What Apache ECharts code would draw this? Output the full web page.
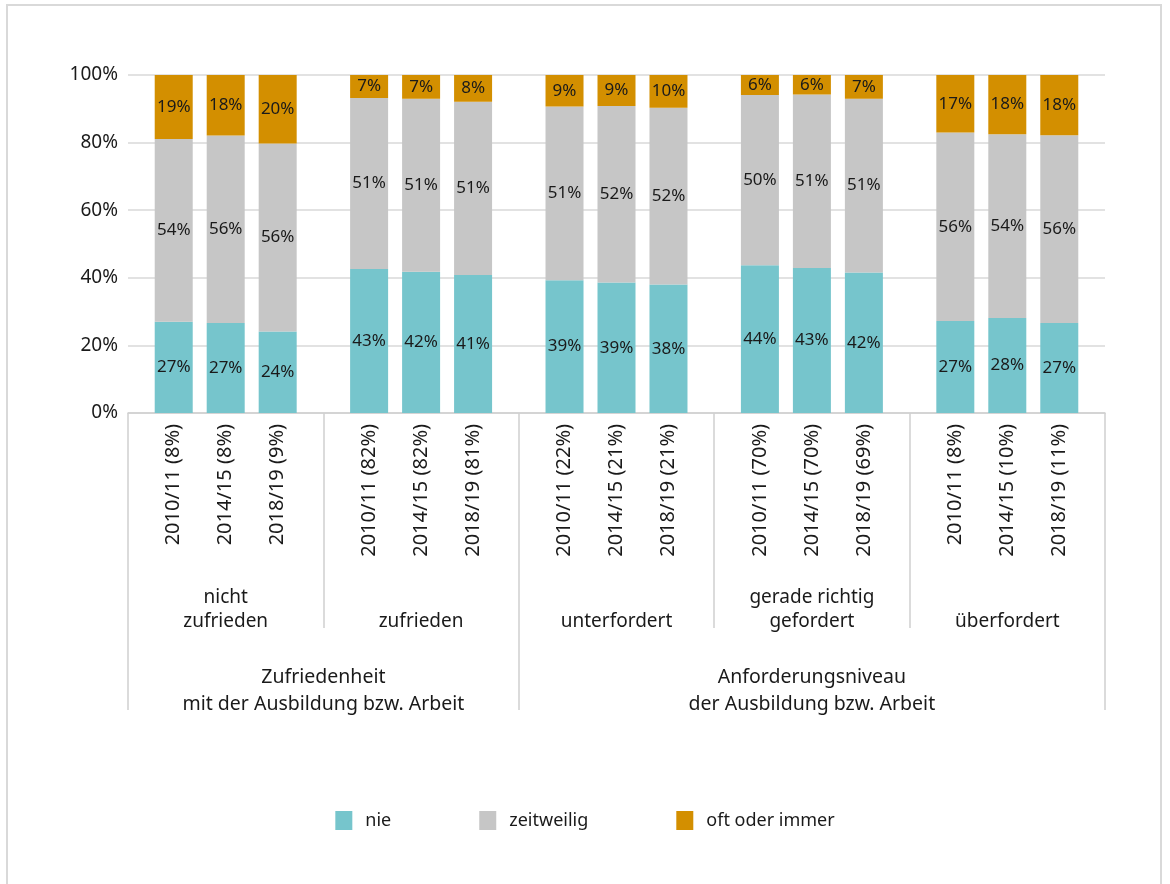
<!DOCTYPE html>
<html>
<head>
<meta charset="utf-8">
<script src="https://cdn.jsdelivr.net/npm/echarts@6/dist/echarts.min.js"></script>
<style>
  html, body { margin: 0; padding: 0; background: #fff; }
  #frame { position: absolute; left: 6px; top: 4px; width: 1156px; height: 900px; border: 2px solid #d9d9d9; box-sizing: border-box; }
  #chart { position: absolute; left: 0; top: 0; width: 1170px; height: 884px; }
</style>
</head>
<body>
<div id="frame"></div>
<div id="chart"></div>
<script>
// ---- data ----
const groups = ['nicht\nzufrieden', 'zufrieden', 'unterfordert', 'gerade richtig\ngefordert', 'überfordert'];
const superGroups = ['Zufriedenheit\nmit der Ausbildung bzw. Arbeit', 'Anforderungsniveau\nder Ausbildung bzw. Arbeit'];
const superGroupSizes = [2, 3];
const years = ['2010/11', '2014/15', '2018/19'];
const shares = [8, 8, 9, 82, 82, 81, 22, 21, 21, 70, 70, 69, 8, 10, 11];
const seriesNames = ['nie', 'zeitweilig', 'oft oder immer'];
const nie        = [27.0, 26.6, 24.1, 42.6, 41.8, 40.8, 39.3, 38.6, 38.0, 43.7, 42.9, 41.6, 27.2, 28.1, 26.6];
const zeitweilig = [54.1, 55.5, 55.6, 50.6, 51.2, 51.3, 51.4, 52.2, 52.3, 50.4, 51.3, 51.4, 55.8, 54.4, 55.6];
const oft        = [18.9, 17.9, 20.3,  6.8,  7.0,  7.9,  9.3,  9.2,  9.7,  5.9,  5.8,  7.0, 17.0, 17.5, 17.8];
const yTicks = [0, 20, 40, 60, 80, 100];

const colors = ['#76C5CC', '#C6C6C6', '#D38F00'];
const FONT = 'Noto Sans';
const TXT = '#1a1a1a';

const values = [nie, zeitweilig, oft];
const nY = years.length;

// super group boundaries / centers (in category units)
const sgBounds = [0];
superGroupSizes.forEach(s => sgBounds.push(sgBounds[sgBounds.length - 1] + s));
const sgCenters = superGroupSizes.map((s, i) => sgBounds[i] + s / 2);

const series = [];
for (let k = 0; k < nY; k++) {
  // invisible zero-height bar carrying the year label below the axis
  series.push({
    name: 'lbl' + k, type: 'bar', stack: 'y' + k, barWidth: 38, silent: true,
    data: groups.map(() => 0),
    itemStyle: { color: 'rgba(0,0,0,0)' },
    label: {
      show: true, position: 'bottom', distance: 11, rotate: 90,
      align: 'right', verticalAlign: 'middle',
      fontFamily: FONT, fontSize: 20, color: TXT,
      formatter: p => years[k] + ' (' + shares[p.dataIndex * nY + k] + '%)'
    }
  });
  for (let s = 0; s < seriesNames.length; s++) {
    series.push({
      name: seriesNames[s], type: 'bar', stack: 'y' + k, barWidth: 38, barGap: '36.8%',
      data: groups.map((g, gi) => values[s][gi * nY + k]),
      itemStyle: { color: colors[s] },
      label: {
        show: true, position: 'inside', fontFamily: FONT, fontSize: 17, color: TXT,
        formatter: p => Math.round(p.value) + '%'
      }
    });
  }
}

const chart = echarts.init(document.getElementById('chart'), null, { renderer: 'canvas' });
chart.setOption({
  animation: false,
  color: colors,
  grid: { left: 128, right: 65, top: 75, bottom: 471, containLabel: false },
  legend: {
    data: seriesNames, top: 806, left: 'center', icon: 'rect',
    itemWidth: 17, itemHeight: 19, itemGap: 88,
    textStyle: { fontFamily: FONT, fontSize: 18, color: TXT, padding: [0, 0, 0, 8] }
  },
  xAxis: [
    {
      type: 'category', data: groups, position: 'bottom',
      axisLine: { show: true, lineStyle: { color: '#d0d0d0', width: 1.5 } },
      axisTick: { show: true, length: 215, lineStyle: { color: '#d0d0d0', width: 1.5 } },
      axisLabel: {
        interval: 0, margin: 221, verticalAlign: 'bottom', lineHeight: 24,
        fontFamily: FONT, fontSize: 19, color: TXT
      },
      splitLine: { show: false }
    },
    {
      type: 'value', min: 0, max: groups.length, position: 'bottom',
      axisLine: { show: false },
      splitLine: { show: false },
      axisTick: { show: true, length: 297, customValues: sgBounds, lineStyle: { color: '#d0d0d0', width: 1.5 } },
      axisLabel: {
        customValues: sgCenters, margin: 251, verticalAlign: 'top', lineHeight: 27,
        fontFamily: FONT, fontSize: 19.5, color: TXT,
        formatter: v => { const i = sgCenters.indexOf(v); return i >= 0 ? superGroups[i] : ''; }
      }
    }
  ],
  yAxis: {
    type: 'value', min: 0, max: 100, interval: 20,
    axisLine: { show: false }, axisTick: { show: false },
    splitLine: { show: true, lineStyle: { color: '#d9d9d9', width: 1.5 } },
    axisLabel: { formatter: '{value}%', margin: 10, fontFamily: FONT, fontSize: 19, color: TXT }
  },
  series: series
});
</script>
</body>
</html>
